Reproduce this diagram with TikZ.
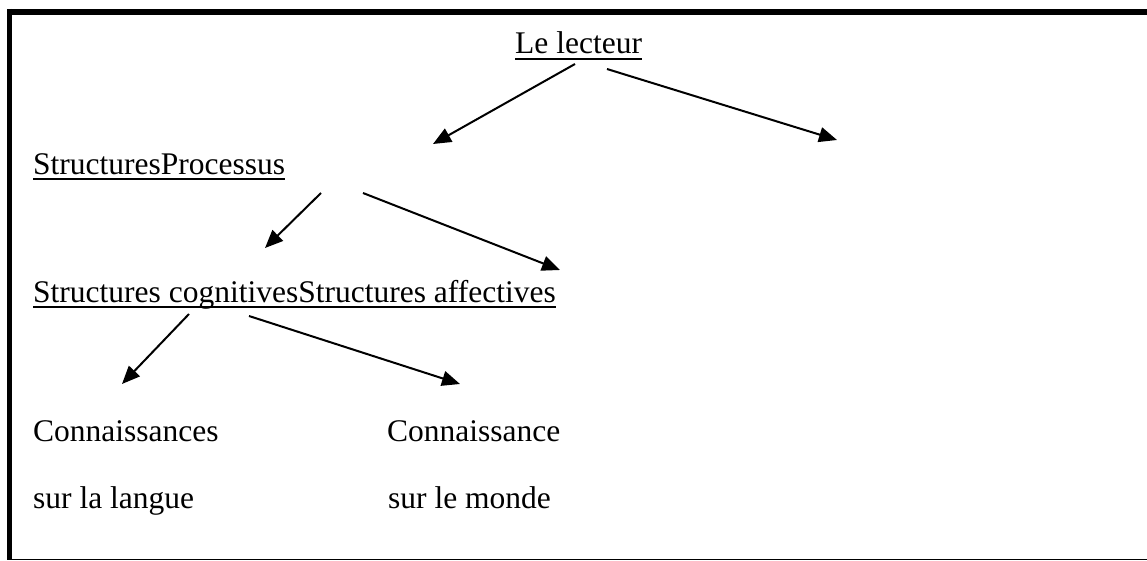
\documentclass[tikz,border=0pt]{standalone}
\usepackage{fontspec}
\setmainfont{Liberation Serif}
\usetikzlibrary{arrows.meta}

\begin{document}
\begin{tikzpicture}[x=1pt,y=-1pt,
  txt/.style={anchor=base west,inner sep=0pt,font=\fontsize{31.5}{36}\selectfont},
  fleche/.style={line width=2pt,-{Triangle[length=18pt,width=15pt]}},
  souligne/.style={line width=2pt}]
\useasboundingbox (0,0) rectangle (1147,561);

% cadre
\draw[line width=6pt] (7,12) -- (1147,12);
\draw[line width=5.5pt] (9.5,9) -- (9.5,560);
\draw[line width=1.5pt] (7,559.5) -- (1147,559.5);

\node(lecteur) [txt] at (515,54) {Le lecteur};
\node(struct) [txt] at (33,175) {StructuresProcessus};
\node(cogn) [txt] at (33,302) {Structures cognitivesStructures affectives};
\node(conn1) [txt] at (33,441) {Connaissances};
\node(conn2) [txt] at (387,441) {Connaissance};
\node(langue) [txt] at (33,508) {sur la langue};
\node(monde) [txt] at (388,508) {sur le monde};

\draw[souligne] ([yshift=-5pt]lecteur.base west) -- ([yshift=-5pt]lecteur.base east);
\draw[souligne] ([yshift=-4pt]struct.base west) -- ([yshift=-4pt]struct.base east);
\draw[souligne] ([yshift=-5pt]cogn.base west) -- ([yshift=-5pt]cogn.base east);

%\coordinate points des fleches
\coordinate(l1) at (575,64);
\coordinate(l2) at (607,69);
\coordinate(s1) at (433,144);
\coordinate(p1) at (837,140);
\coordinate(st1) at (321,193);
\coordinate(st2) at (363,193);
\coordinate(c1) at (265,248);
\coordinate(a1) at (560,270);
\coordinate(cg1) at (189,314);
\coordinate(cg2) at (249,316);
\coordinate(k1) at (122,384);
\coordinate(k2) at (460,384);

\draw[fleche] (l1) to (s1);
\draw[fleche] (l2) to (p1);
\draw[fleche] (st1) to (c1);
\draw[fleche] (st2) to (a1);
\draw[fleche] (cg1) to (k1);
\draw[fleche] (cg2) to (k2);
\end{tikzpicture}
\end{document}
